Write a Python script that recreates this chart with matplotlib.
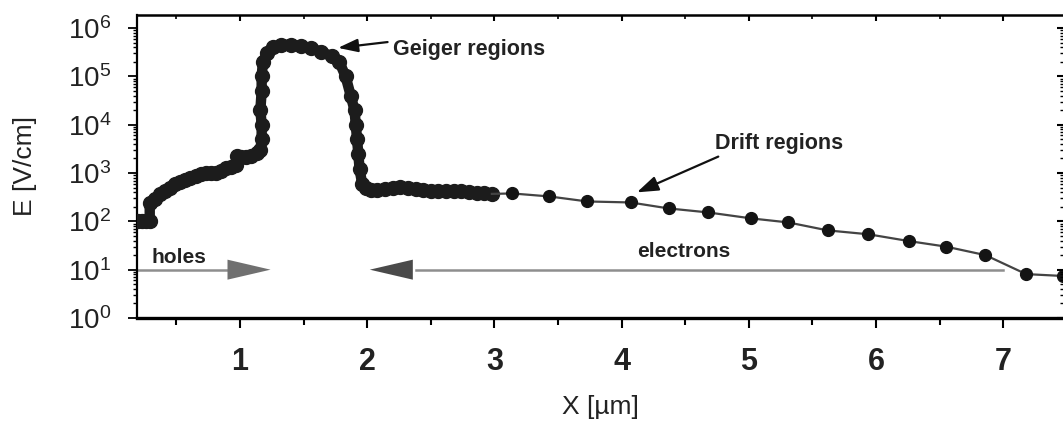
import numpy as np
import matplotlib
matplotlib.use("Agg")
import matplotlib.pyplot as plt
from matplotlib.ticker import LogLocator, MultipleLocator, NullFormatter

plt.rcParams['font.family'] = ['Liberation Sans', 'DejaVu Sans']

# field profile, dense part (Geiger + neighbouring regions)
x_dense = [0.20, 0.23, 0.26, 0.29, 0.29, 0.33, 0.37, 0.41, 0.45, 0.49, 0.53, 0.57,
           0.61, 0.65, 0.69, 0.73, 0.77, 0.81, 0.85, 0.89, 0.93, 0.97, 0.98, 1.01,
           1.05, 1.09, 1.13, 1.16, 1.17, 1.17, 1.16, 1.17, 1.17, 1.18, 1.21, 1.26,
           1.32, 1.40, 1.48, 1.56, 1.64, 1.72, 1.78, 1.83, 1.87, 1.90, 1.91, 1.92,
           1.93, 1.94, 1.96, 1.99, 2.03, 2.08, 2.14, 2.20, 2.26, 2.32, 2.38, 2.44,
           2.50, 2.56, 2.62, 2.68, 2.74, 2.80, 2.86, 2.92, 2.98]
e_dense = [100, 100, 100, 100, 240, 290, 360, 430, 500, 580, 650, 720,
           800, 880, 950, 1000, 1000, 1020, 1100, 1250, 1350, 1500, 2300, 2100,
           2100, 2300, 2600, 3000, 5000, 10000, 20000, 50000, 100000, 200000, 300000, 400000,
           450000, 450000, 420000, 380000, 320000, 260000, 200000, 100000, 40000, 20000, 10000, 5000,
           2500, 1200, 600, 480, 450, 450, 470, 500, 510, 490, 460, 440,
           430, 420, 420, 430, 420, 400, 390, 380, 370]

# drift region points
x_drift = [3.14, 3.43, 3.73, 4.07, 4.37, 4.68, 5.02, 5.31, 5.62, 5.94, 6.26, 6.55, 6.86, 7.18, 7.47]
e_drift = [378, 328, 258, 246, 185, 153, 115, 95, 65, 54, 39, 30, 20, 8.1, 7.4]

x_ticks = [1, 2, 3, 4, 5, 6, 7]

# carrier arrows (x start, head base, tip) at E = 10
holes_x = [0.19, 0.90, 1.24]
electrons_x = [7.00, 2.38, 2.02]
arrow_level = 10

fig = plt.figure(figsize=(10.63, 4.24), dpi=100)
ax = fig.add_axes([137 / 1063, 1 - 318 / 424, 1 - 137 / 1063, 303 / 424])

# dense band of overlapping markers
ax.plot(x_dense, e_dense, color='#1c1c1c', lw=7.5, marker='o', ms=10,
        solid_capstyle='round', solid_joinstyle='round', zorder=3)
# drift part: thin line with dots
ax.plot([x_dense[-1]] + x_drift, [e_dense[-1]] + e_drift, color='#444444', lw=1.6, zorder=3)
ax.plot(x_drift, e_drift, ls='none', marker='o', ms=8.5, color='#141414', zorder=4)

# holes arrow
ax.plot(holes_x[:2], [arrow_level] * 2, color='#8e8e8e', lw=1.8, zorder=2)
ax.annotate('', xy=(holes_x[2], arrow_level), xytext=(holes_x[1], arrow_level),
            arrowprops=dict(arrowstyle='-|>,head_length=3.1,head_width=0.72', mutation_scale=10,
                            color='#707070', lw=0, shrinkA=0, shrinkB=0))
# electrons arrow
ax.plot(electrons_x[:2], [arrow_level] * 2, color='#8e8e8e', lw=1.8, zorder=2)
ax.annotate('', xy=(electrons_x[2], arrow_level), xytext=(electrons_x[1], arrow_level),
            arrowprops=dict(arrowstyle='-|>,head_length=3.1,head_width=0.72', mutation_scale=10,
                            color='#4a4a4a', lw=0, shrinkA=0, shrinkB=0))

ax.text(0.52, 10 ** 1.26, 'holes', fontsize=15, fontweight='bold', color='#222222',
        ha='center', va='center')
ax.text(4.49, 10 ** 1.38, 'electrons', fontsize=15, fontweight='bold', color='#222222',
        ha='center', va='center')

# annotations
ax.annotate('', xy=(1.77, 10 ** 5.59), xytext=(2.16, 10 ** 5.71),
            arrowprops=dict(arrowstyle='-|>,head_length=1.2,head_width=0.4', mutation_scale=10,
                            color='#111111', lw=1.6, shrinkA=0, shrinkB=0))
ax.text(2.20, 10 ** 5.56, 'Geiger regions', fontsize=15.5, fontweight='bold', color='#222222',
        ha='left', va='center')
ax.annotate('', xy=(4.12, 10 ** 2.60), xytext=(4.76, 10 ** 3.34),
            arrowprops=dict(arrowstyle='-|>,head_length=1.3,head_width=0.45', mutation_scale=10,
                            color='#111111', lw=1.6, shrinkA=0, shrinkB=0))
ax.text(5.24, 10 ** 3.61, 'Drift regions', fontsize=15.5, fontweight='bold', color='#222222',
        ha='center', va='center')

# axes
ax.set_yscale('log')
ax.set_xlim(0.19, 7.47)
ax.set_ylim(1, 10 ** 6.27)
ax.set_xticks(x_ticks)
ax.set_xticklabels([str(t) for t in x_ticks], fontsize=22, fontweight='bold', color='#222222')
ax.xaxis.set_minor_locator(MultipleLocator(0.5))
ax.yaxis.set_major_locator(LogLocator(base=10, numticks=10))
ax.yaxis.set_minor_locator(LogLocator(base=10, subs=np.arange(2, 10), numticks=20))
ax.yaxis.set_minor_formatter(NullFormatter())

ax.tick_params(axis='x', which='major', direction='out', length=7, width=1.5, pad=14)
ax.tick_params(axis='x', which='minor', direction='out', length=5, width=1.5)
ax.tick_params(axis='y', which='major', direction='out', length=6.5, width=1.3, pad=12,
               labelsize=20, labelcolor='#222222')
ax.tick_params(axis='y', which='minor', direction='out', length=3, width=1.0)

# inward ticks on the top and right edges
topax = ax.twiny()
topax.set_xlim(ax.get_xlim())
topax.set_xticks(x_ticks)
topax.xaxis.set_minor_locator(MultipleLocator(0.5))
topax.tick_params(axis='x', which='major', direction='in', length=4, width=1.5, labeltop=False)
topax.tick_params(axis='x', which='minor', direction='in', length=3, width=1.2)
rightax = ax.twinx()
rightax.set_yscale('log')
rightax.set_ylim(ax.get_ylim())
rightax.yaxis.set_major_locator(LogLocator(base=10, numticks=10))
rightax.yaxis.set_minor_locator(LogLocator(base=10, subs=np.arange(2, 10), numticks=20))
rightax.tick_params(axis='y', which='major', direction='in', length=4, width=1.5, labelright=False)
rightax.tick_params(axis='y', which='minor', direction='in', length=2.5, width=1.0)
for a in (topax, rightax):
    for s in a.spines.values():
        s.set_visible(False)

ax.spines['right'].set_visible(False)
ax.spines['bottom'].set_linewidth(2.4)
ax.spines['top'].set_linewidth(1.8)
ax.spines['left'].set_linewidth(1.6)

ax.set_xlabel('X [µm]', fontsize=19, color='#222222')
ax.set_ylabel('E [V/cm]', fontsize=19, color='#222222')
ax.xaxis.set_label_coords(0.5, -0.255)
ax.yaxis.set_label_coords(-0.108, 0.5)

fig.savefig('out.png', dpi=100)
